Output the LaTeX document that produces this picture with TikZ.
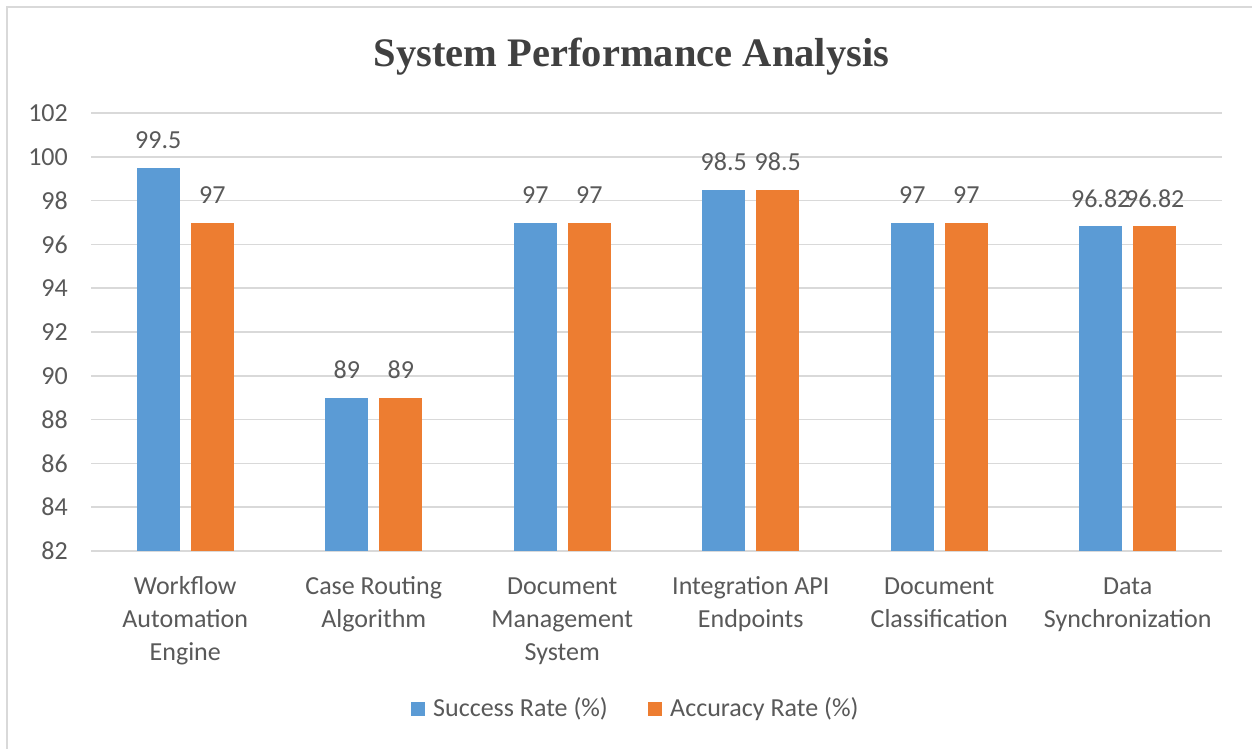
\documentclass[tikz,border=0pt]{standalone}
\usepackage{fontspec}
\setmainfont{Carlito}
\newfontfamily\titlefont{Liberation Serif}
\definecolor{sblue}{HTML}{5B9BD5}
\definecolor{sorange}{HTML}{ED7D31}
\definecolor{gridc}{HTML}{D9D9D9}
\definecolor{framec}{HTML}{D9D9D9}
\definecolor{txt}{HTML}{595959}
\definecolor{titlec}{HTML}{404040}
\begin{document}
\begin{tikzpicture}[x=1pt,y=-1pt,
  lbl/.style={text=txt,font=\fontsize{26}{33}\selectfont,inner sep=0pt},
  catlbl/.style={lbl,align=center,anchor=north},
  vlbl/.style={lbl,anchor=base},
  bluebar/.style={fill=sblue,draw=none},
  orangebar/.style={fill=sorange,draw=none},
  gridline/.style={draw=gridc,line width=1.5pt}]
\useasboundingbox (0,0) rectangle (1252,749);
\fill[white] (0,0) rectangle (1252,749);
\draw[framec,line width=2pt] (7,7) rectangle (1265,765);
% title
\node[text=titlec,font=\titlefont\bfseries\fontsize{40.5}{48}\selectfont,inner sep=0pt] (title) at (631.5,57) {System Performance Analysis};
% grid and ticks
\foreach \v [count=\i] in {82,84,...,102}{
  \pgfmathsetmacro{\py}{551-(\v-82)*21.9}
  \draw[gridline] (91,\py) -- (1222,\py);
  \node[lbl,anchor=east] (tick\i) at (68,\py) {\v};
}
% bars
\foreach \s/\a [count=\i] in {99.5/97,89/89,97/97,98.5/98.5,97/97,96.82/96.82}{
  \pgfmathsetmacro{\cx}{91+(\i-0.5)*188.5}
  \pgfmathsetmacro{\ys}{551-(\s-82)*21.9}
  \pgfmathsetmacro{\ya}{551-(\a-82)*21.9}
  \fill[bluebar] (\cx-48.5,\ys) rectangle (\cx-5.5,551);
  \fill[orangebar] (\cx+5.5,\ya) rectangle (\cx+48.5,551);
  \node[vlbl] (vs\i) at (\cx-27,\ys-19) {\s};
  \node[vlbl] (va\i) at (\cx+27,\ya-19) {\a};
}
% category labels
\node[catlbl] (c1) at (185.25,571) {\strut Workflow\\Automation\\Engine};
\node[catlbl] (c2) at (373.75,571) {\strut Case Routing\\Algorithm};
\node[catlbl] (c3) at (562.25,571) {\strut Document\\Management\\System};
\node[catlbl] (c4) at (750.75,571) {\strut Integration API\\Endpoints};
\node[catlbl] (c5) at (939.25,571) {\strut Document\\Classification};
\node[catlbl] (c6) at (1127.75,571) {\strut Data\\Synchronization};
% legend
\fill[sblue] (411,702) rectangle (425,716);
\node[lbl,anchor=west] (leg1) at (433,709) {Success Rate (\%)};
\fill[sorange] (648,702) rectangle (662,716);
\node[lbl,anchor=west] (leg2) at (670,709) {Accuracy Rate (\%)};
\end{tikzpicture}
\end{document}
